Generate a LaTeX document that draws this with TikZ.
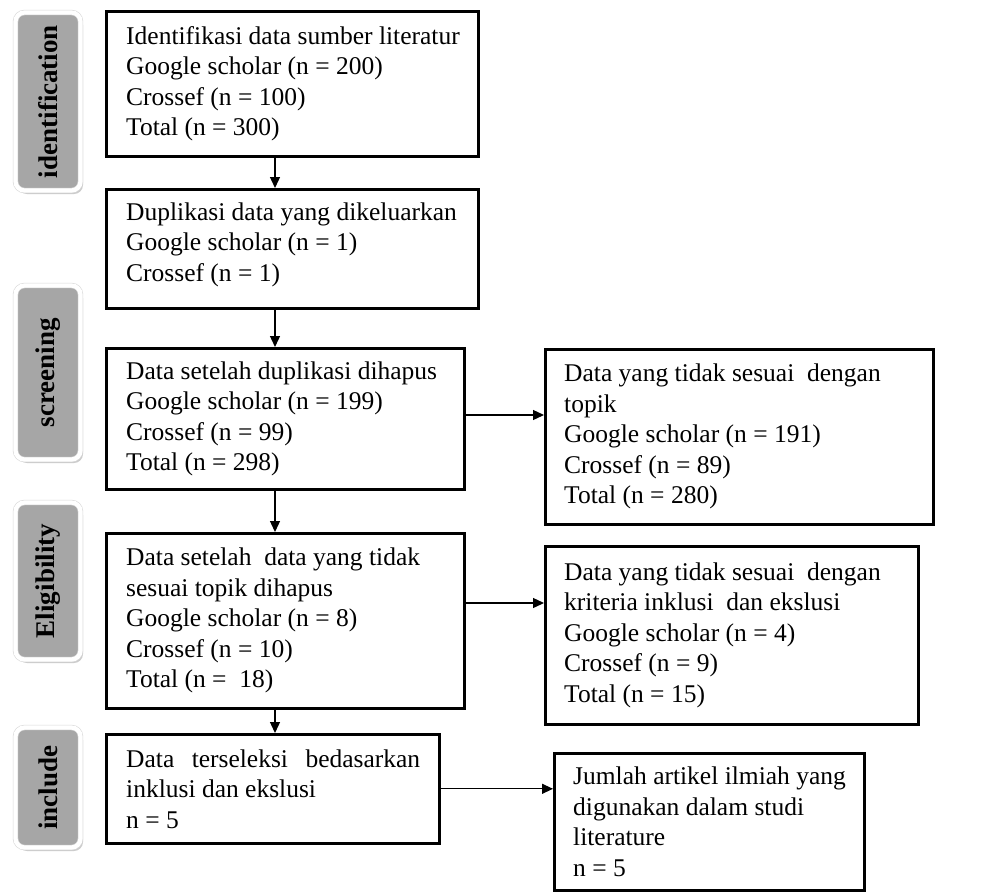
\documentclass[tikz,border=0pt]{standalone}
\usepackage{fontspec}
\setmainfont{Liberation Serif}
\usetikzlibrary{arrows.meta,shadows}
\definecolor{sidegrey}{HTML}{A6A6A6}
\begin{document}
\begin{tikzpicture}[x=1pt,y=-1pt,
  box/.style={draw=black, line width=2.6pt, anchor=north west, inner sep=0pt},
  txt/.style={anchor=west, align=left, inner sep=0pt, font=\fontsize{25.5}{30.5}\selectfont},
  side/.style={rounded corners=9pt, fill=sidegrey, draw=gray!30, double=white,
    double distance=4.2pt, line width=0.6pt, minimum width=65pt, inner sep=0pt,
    drop shadow={shadow xshift=2.5pt, shadow yshift=-3.5pt, fill=gray!50, opacity=0.8},
    font=\fontsize{27}{27}\selectfont\bfseries},
  arr/.style={line width=1.3pt, -{Triangle[length=11pt,width=10pt]}}]
\useasboundingbox (0,0) rectangle (990,892);

% side labels
\node[side, minimum height=178pt] (s1) at (48,101.5) {\rotatebox{90}{identification}};
\node[side, minimum height=174pt] (s2) at (48,372.5) {\rotatebox{90}{screening}};
\node[side, minimum height=157pt] (s3) at (48,581) {\rotatebox{90}{Eligibility}};
\node[side, minimum height=120pt] (s4) at (48,787.5) {\rotatebox{90}{include}};

% main boxes
\node[box, minimum width=372pt, minimum height=145pt] (b1) at (105,10) {};
\node[box, minimum width=372pt, minimum height=119pt] (b2) at (105,188) {};
\node[box, minimum width=358pt, minimum height=141pt] (b3) at (105,347) {};
\node[box, minimum width=358pt, minimum height=175pt] (b4) at (105,532) {};
\node[box, minimum width=333pt, minimum height=109pt] (b5) at (105,733) {};
\node[box, minimum width=388pt, minimum height=175pt] (bA) at (544,348) {};
\node[box, minimum width=373pt, minimum height=178pt] (bB) at (544,545) {};
\node[box, minimum width=310pt, minimum height=137pt] (bC) at (553,752) {};

% texts
\node[txt] (t1) at ([xshift=21pt]b1.west) {Identifikasi data sumber literatur\\Google scholar (n = 200)\\Crossef (n = 100)\\Total (n = 300)};
\node[txt] (t2) at ([xshift=21pt,yshift=4pt]b2.west) {Duplikasi data yang dikeluarkan\\Google scholar (n = 1)\\Crossef (n = 1)};
\node[txt] (t3) at ([xshift=21pt]b3.west) {Data setelah duplikasi dihapus\\Google scholar (n = 199)\\Crossef (n = 99)\\Total (n = 298)};
\node[txt] (t4) at ([xshift=21pt]b4.west) {Data setelah~ data yang tidak\\sesuai topik dihapus\\Google scholar (n = 8)\\Crossef (n = 10)\\Total (n = ~18)};
\node[txt] (t5) at ([xshift=21pt]b5.west) {\makebox[294pt][s]{Data terseleksi bedasarkan}\\inklusi dan ekslusi\\n = 5};
\node[txt] (tA) at ([xshift=20pt]bA.west) {Data yang tidak sesuai~ dengan\\topik\\Google scholar (n = 191)\\Crossef (n = 89)\\Total (n = 280)};
\node[txt] (tB) at ([xshift=20pt]bB.west) {Data yang tidak sesuai~ dengan\\kriteria inklusi~ dan ekslusi\\Google scholar (n = 4)\\Crossef (n = 9)\\Total (n = 15)};
\node[txt] (tC) at ([xshift=20pt]bC.west) {Jumlah artikel ilmiah yang\\digunakan dalam studi\\literature\\n = 5};

% connectors
\coordinate (col) at (275,0);
\coordinate (rowA) at (0,415);
\coordinate (rowB) at (0,603);
\draw[arr] (b1.south -| col) -- (b2.north -| col);
\draw[arr] (b2.south -| col) -- (b3.north -| col);
\draw[arr] (b3.south -| col) -- (b4.north -| col);
\draw[arr] (b4.south -| col) -- (b5.north -| col);
\draw[arr] (b3.east |- rowA) -- (bA.west |- rowA);
\draw[arr] (b4.east |- rowB) -- (bB.west |- rowB);
\draw[arr] (b5.east) -- (b5.east -| bC.west);
\end{tikzpicture}
\end{document}
